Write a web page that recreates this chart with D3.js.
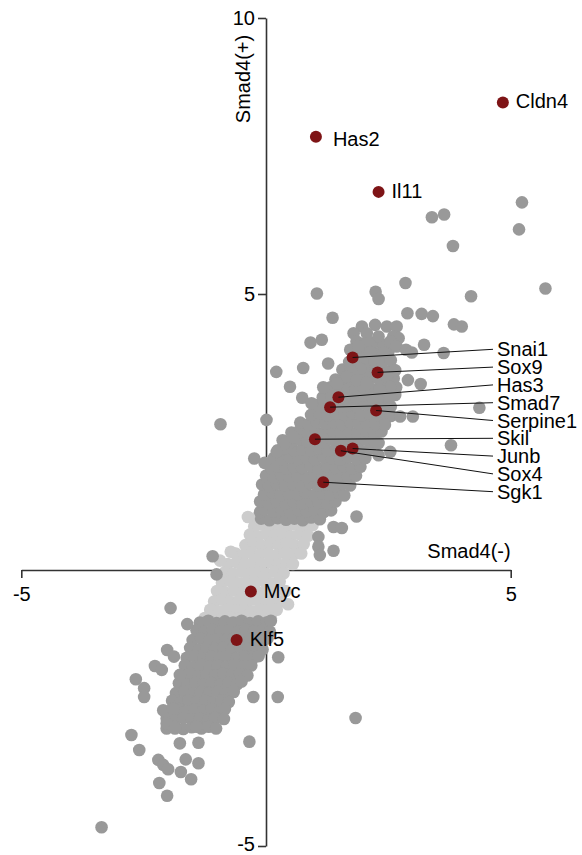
<!DOCTYPE html>
<meta charset="utf-8">
<style>
  body { margin: 0; background: #fff; }
  svg { font-family: Arial, "Liberation Sans", Helvetica, sans-serif; }
  .axis path, .axis line { stroke: #333; stroke-width: 1.6px; }
  .axis text { font-size: 20px; fill: #000; }
  .title { font-size: 20px; fill: #000; }
  .gene { font-size: 20px; fill: #000; }
  .leader { stroke: #111; stroke-width: 1px; }
</style>
<svg width="582" height="855"></svg>
<script src="https://d3js.org/d3.v7.min.js"></script>
<script>

// axis setup
var xDomain = [-5, 5];
var yDomain = [-5, 10];
var xTicks = [-5, 5];
var yTicks = [-5, 5, 10];
var xTitle = "Smad4(-)";
var yTitle = "Smad4(+)";

// genes with direct labels
var labelNames = ["Cldn4", "Has2", "Il11", "Myc", "Klf5"];
var labelX = [4.84, 1.02, 2.30, -0.31, -0.60];
var labelY = [8.47, 7.85, 6.85, -0.39, -1.27];

// genes with leader lines to the right column
var calloutNames = ["Snai1", "Sox9", "Has3", "Smad7", "Serpine1", "Skil", "Junb", "Sox4", "Sgk1"];
var calloutX = [1.77, 2.28, 1.48, 1.31, 2.25, 1.00, 1.77, 1.53, 1.17];
var calloutY = [3.85, 3.58, 3.13, 2.95, 2.89, 2.37, 2.20, 2.16, 1.59];

// light grey genes (not significant), around origin
var lightPoints = [
  [-0.18,0.95],[-0.01,0.98],[0.16,0.94],[0.33,0.97],[0.50,0.95],[0.67,0.98],[0.84,0.94],
  [-0.24,0.79],[-0.07,0.82],[0.10,0.78],[0.27,0.81],[0.44,0.79],[0.61,0.82],[0.78,0.78],[0.95,0.81],
  [-0.33,0.64],[-0.16,0.61],[0.01,0.65],[0.18,0.62],[0.35,0.64],[0.52,0.61],[0.69,0.65],[0.86,0.62],
  [-0.42,0.45],[-0.25,0.48],[-0.08,0.44],[0.09,0.47],[0.26,0.45],[0.43,0.48],[0.60,0.44],[0.77,0.47],
  [-0.62,0.30],[-0.46,0.27],[-0.29,0.31],[-0.12,0.28],[0.05,0.30],[0.22,0.27],[0.39,0.31],[0.56,0.28],[0.72,0.30],
  [-0.78,0.11],[-0.60,0.14],[-0.43,0.10],[-0.26,0.13],[-0.09,0.11],[0.08,0.14],[0.25,0.10],[0.42,0.13],[0.55,0.11],
  [-0.84,-0.04],[-0.67,-0.07],[-0.50,-0.03],[-0.33,-0.06],[-0.16,-0.04],[0.01,-0.07],[0.18,-0.03],[0.36,-0.06],
  [-0.90,-0.23],[-0.73,-0.20],[-0.56,-0.24],[-0.39,-0.21],[-0.22,-0.23],[-0.05,-0.20],[0.12,-0.24],[0.28,-0.21],
  [-1.00,-0.38],[-0.83,-0.41],[-0.66,-0.37],[-0.49,-0.40],[-0.32,-0.38],[-0.15,-0.41],[0.02,-0.37],[0.19,-0.40],[0.40,-0.38],
  [-1.06,-0.57],[-0.89,-0.54],[-0.72,-0.58],[-0.55,-0.55],[-0.38,-0.57],[-0.21,-0.54],[-0.04,-0.58],[0.13,-0.55],[0.30,-0.57],[0.45,-0.62],
  [-1.14,-0.72],[-0.97,-0.75],[-0.80,-0.71],[-0.63,-0.74],[-0.46,-0.72],[-0.29,-0.75],[-0.12,-0.71],[0.05,-0.74],[0.22,-0.72],
  [-1.25,-0.87],[-1.08,-0.85],[-0.91,-0.88],[-0.74,-0.86],[-0.57,-0.88],[-0.40,-0.85],[-0.23,-0.87],[-0.06,-0.85],[0.10,-0.88],
  [-0.37,0.96],[-0.72,0.33],[-0.94,0.17]
];

// dark grey genes, upregulated cluster
var upPoints = [
  [-0.10,0.93],[0.07,0.90],[0.24,0.94],[0.41,0.91],[0.58,0.93],[0.75,0.90],[0.92,0.95],[1.10,0.92],
  [-0.12,1.05],[-0.03,1.10],[0.15,1.06],[0.32,1.09],[0.49,1.05],[0.66,1.08],[0.83,1.06],[1.00,1.10],[1.18,1.05],[1.33,1.08],
  [-0.12,1.24],[0.05,1.21],[0.22,1.25],[0.40,1.20],[0.57,1.23],[0.74,1.21],[0.91,1.25],[1.08,1.22],[1.25,1.20],[1.42,1.24],
  [-0.04,1.37],[0.13,1.40],[0.30,1.36],[0.47,1.39],[0.64,1.37],[0.81,1.41],[0.98,1.36],[1.15,1.39],[1.32,1.37],[1.49,1.40],[1.60,1.35],
  [-0.08,1.55],[0.06,1.52],[0.22,1.56],[0.39,1.53],[0.56,1.55],[0.73,1.52],[0.90,1.57],[1.07,1.53],[1.24,1.55],[1.41,1.52],[1.58,1.56],[1.72,1.53],
  [0.00,1.71],[0.15,1.68],[0.31,1.72],[0.48,1.69],[0.65,1.71],[0.82,1.68],[0.99,1.72],[1.16,1.70],[1.33,1.68],[1.50,1.72],[1.67,1.69],[1.84,1.71],
  [0.10,1.85],[0.24,1.88],[0.40,1.84],[0.57,1.87],[0.74,1.85],[0.91,1.88],[1.08,1.84],[1.25,1.87],[1.42,1.85],[1.59,1.88],[1.76,1.84],[1.93,1.87],
  [0.16,2.03],[0.33,2.00],[0.49,2.04],[0.66,2.01],[0.83,2.03],[1.00,2.00],[1.17,2.04],[1.34,2.02],[1.51,2.00],[1.68,2.04],[1.85,2.01],[2.03,2.03],
  [0.24,2.17],[0.41,2.20],[0.58,2.16],[0.75,2.19],[0.92,2.17],[1.09,2.20],[1.26,2.16],[1.43,2.19],[1.60,2.17],[1.77,2.20],[1.94,2.16],[2.12,2.19],
  [0.34,2.35],[0.50,2.32],[0.67,2.36],[0.84,2.33],[1.01,2.35],[1.18,2.32],[1.35,2.36],[1.52,2.33],[1.69,2.35],[1.86,2.32],[2.03,2.36],[2.22,2.33],
  [0.52,2.49],[0.68,2.52],[0.85,2.48],[1.02,2.51],[1.19,2.49],[1.36,2.52],[1.53,2.48],[1.70,2.51],[1.87,2.49],[2.04,2.52],[2.21,2.48],[2.36,2.51],
  [0.70,2.67],[0.87,2.64],[1.04,2.68],[1.21,2.65],[1.38,2.67],[1.55,2.64],[1.72,2.68],[1.89,2.65],[2.06,2.67],[2.23,2.64],[2.42,2.68],
  [0.92,2.81],[1.09,2.84],[1.26,2.80],[1.43,2.83],[1.60,2.81],[1.77,2.84],[1.94,2.80],[2.11,2.83],[2.28,2.81],[2.45,2.84],[2.55,2.79],
  [1.02,2.99],[1.18,2.96],[1.35,3.00],[1.52,2.97],[1.69,2.99],[1.86,2.96],[2.03,3.00],[2.20,2.97],[2.37,2.99],[2.55,2.96],
  [1.16,3.13],[1.33,3.16],[1.50,3.12],[1.67,3.15],[1.84,3.13],[2.01,3.16],[2.18,3.12],[2.35,3.15],[2.52,3.13],[2.64,3.17],
  [1.32,3.31],[1.48,3.28],[1.65,3.32],[1.82,3.29],[1.99,3.31],[2.16,3.28],[2.33,3.32],[2.50,3.29],[2.66,3.31],
  [1.42,3.45],[1.59,3.48],[1.76,3.44],[1.93,3.47],[2.10,3.45],[2.27,3.48],[2.44,3.44],[2.61,3.47],
  [1.56,3.63],[1.73,3.60],[1.90,3.64],[2.07,3.61],[2.24,3.63],[2.41,3.60],[2.58,3.64],
  [1.70,3.77],[1.87,3.80],[2.04,3.76],[2.21,3.79],[2.38,3.77],[2.55,3.80],
  [1.80,3.95],[1.97,3.92],[2.14,3.96],[2.31,3.93],[2.50,3.95],
  [1.95,4.10],[2.20,4.12],[2.40,4.08]
];

// dark grey genes, downregulated cluster
var downPoints = [
  [-1.35,-0.95],[-1.18,-0.92],[-1.01,-0.96],[-0.84,-0.93],[-0.67,-0.95],[-0.50,-0.92],[-0.33,-0.96],[-0.16,-0.93],[0.01,-0.95],[0.10,-0.92],
  [-1.42,-1.09],[-1.26,-1.12],[-1.09,-1.08],[-0.92,-1.11],[-0.75,-1.09],[-0.58,-1.12],[-0.41,-1.08],[-0.24,-1.11],[-0.07,-1.09],[0.08,-1.12],
  [-1.50,-1.27],[-1.33,-1.24],[-1.16,-1.28],[-0.99,-1.25],[-0.82,-1.27],[-0.65,-1.24],[-0.48,-1.28],[-0.31,-1.25],[-0.14,-1.27],[0.03,-1.24],
  [-1.55,-1.41],[-1.38,-1.44],[-1.21,-1.40],[-1.04,-1.43],[-0.87,-1.41],[-0.70,-1.44],[-0.53,-1.40],[-0.36,-1.43],[-0.19,-1.41],[-0.07,-1.44],
  [-1.62,-1.59],[-1.45,-1.56],[-1.28,-1.60],[-1.11,-1.57],[-0.94,-1.59],[-0.77,-1.56],[-0.60,-1.60],[-0.43,-1.57],[-0.26,-1.59],[-0.15,-1.56],
  [-1.66,-1.73],[-1.49,-1.76],[-1.32,-1.72],[-1.15,-1.75],[-0.98,-1.73],[-0.81,-1.76],[-0.64,-1.72],[-0.47,-1.75],[-0.30,-1.73],
  [-1.72,-1.91],[-1.55,-1.88],[-1.38,-1.92],[-1.21,-1.89],[-1.04,-1.91],[-0.87,-1.88],[-0.70,-1.92],[-0.53,-1.89],[-0.38,-1.91],
  [-1.78,-2.05],[-1.61,-2.08],[-1.44,-2.04],[-1.27,-2.07],[-1.10,-2.05],[-0.93,-2.08],[-0.76,-2.04],[-0.59,-2.07],[-0.50,-2.02],
  [-1.84,-2.23],[-1.67,-2.20],[-1.50,-2.24],[-1.33,-2.21],[-1.16,-2.23],[-0.99,-2.20],[-0.82,-2.24],[-0.66,-2.21],
  [-1.92,-2.37],[-1.75,-2.40],[-1.58,-2.36],[-1.41,-2.39],[-1.24,-2.37],[-1.07,-2.40],[-0.90,-2.36],[-0.76,-2.39],
  [-1.96,-2.55],[-1.79,-2.52],[-1.62,-2.56],[-1.45,-2.53],[-1.28,-2.55],[-1.11,-2.52],[-0.94,-2.56],[-0.84,-2.52],
  [-2.03,-2.69],[-1.86,-2.72],[-1.69,-2.68],[-1.52,-2.71],[-1.35,-2.69],[-1.18,-2.72],[-1.04,-2.68],
  [-2.03,-2.87],[-1.86,-2.84],[-1.69,-2.88],[-1.52,-2.85],[-1.32,-2.87],[-1.17,-2.84]
];

// scattered dark grey genes outside the clusters
var outlierPoints = [
  [5.23,6.66],[5.17,6.17],[3.39,6.39],[3.64,6.44],[3.82,5.87],[5.71,5.10],[1.04,5.01],[2.24,5.04],[2.30,4.91],
  [2.85,5.20],[4.19,4.96],[1.36,4.57],[2.89,4.65],[3.18,4.64],[3.41,4.60],[3.84,4.45],[4.00,4.41],[1.96,4.41],
  [2.23,4.44],[2.47,4.41],[2.67,4.41],[1.79,4.29],[2.06,4.29],[2.30,4.23],[2.60,4.23],[2.71,4.20],[1.85,4.14],
  [2.09,4.11],[2.54,4.14],[2.67,4.05],[0.91,4.12],[1.14,4.17],[3.23,4.08],[3.63,3.93],[2.86,3.99],[2.98,3.94],
  [2.13,3.95],[2.40,3.94],[1.27,3.74],[0.76,3.66],[0.21,3.59],[2.64,3.62],[1.92,3.65],[1.75,3.59],[2.90,3.44],
  [3.16,3.37],[2.47,3.50],[2.54,3.32],[2.33,3.26],[2.54,3.14],[1.65,3.50],[1.85,3.44],[2.06,3.38],[0.49,3.32],
  [1.17,3.31],[1.45,3.38],[0.74,3.12],[0.93,3.02],[4.36,2.94],[2.74,2.78],[3.00,2.78],[2.43,2.63],[3.78,2.26],
  [2.30,2.30],[2.30,2.08],[2.54,2.14],[1.85,0.97],[1.38,0.78],[1.55,0.76],[1.07,0.60],[1.38,0.35],[1.07,0.42],
  [1.10,0.27],[-0.93,2.64],[0.01,2.72],[-0.24,2.02],[-0.03,1.94],[0.22,2.14],[0.39,2.30],[0.56,2.41],[1.72,3.99],
  [1.89,4.05],
  [-1.09,0.25],[-1.01,-0.08],[-1.95,-0.69],[-1.61,-0.98],[-2.02,-1.45],[-1.88,-1.57],[-2.27,-1.74],[-2.13,-1.81],
  [-2.66,-1.98],[-2.49,-2.14],[-2.49,-2.30],[-1.76,-1.90],[0.25,-1.58],[-0.26,-2.30],[0.24,-2.30],[-0.34,-3.11],
  [-2.75,-2.99],[-2.59,-3.26],[-2.20,-3.44],[-2.10,-3.53],[-2.00,-3.61],[-1.76,-3.14],[-1.64,-3.43],[-1.38,-3.13],
  [-1.38,-3.50],[-1.74,-3.66],[-1.53,-3.79],[-2.18,-3.86],[-2.02,-4.09],[-3.36,-4.66],[-1.02,-2.87],[-0.86,-2.70],
  [-1.42,-2.84],[-2.10,-2.54],[-1.90,-2.51],[-2.03,-2.78],[-1.86,-2.87],[1.83,-2.68]
];

var svg = d3.select("svg");

var x = d3.scaleLinear().domain(xDomain).range([21.3, 510.7]);
var y = d3.scaleLinear().domain(yDomain).range([846, 18]);

var lightCol = "#cccccc", darkCol = "#999999", redCol = "#7e1416";
var plain = function(d) { return String(d); };   // keep a plain hyphen for negatives

// axes cross at the origin
svg.append("g")
    .attr("class", "axis")
    .attr("transform", "translate(0," + y(0) + ")")
    .call(d3.axisBottom(x).tickValues(xTicks).tickFormat(plain)
      .tickSize(8).tickSizeOuter(0).tickPadding(9));

var yAxis = svg.append("g")
    .attr("class", "axis")
    .attr("transform", "translate(" + x(0) + ",0)")
    .call(d3.axisLeft(y).tickValues(yTicks).tickFormat(plain)
      .tickSize(8).tickSizeOuter(0).tickPadding(3));

// bottom label sits just inside the picture
yAxis.selectAll(".tick text").filter(function(d) { return d == -5; }).attr("dy", "0.2em");

svg.selectAll(".axis").attr("font-size", null).attr("font-family", null);

svg.append("text")
    .attr("class", "title")
    .attr("text-anchor", "end")
    .attr("x", x(5))
    .attr("y", y(0) - 12)
    .text(xTitle);

svg.append("text")
    .attr("class", "title")
    .attr("text-anchor", "middle")
    .attr("transform", "translate(" + (x(0) - 16) + "," + 79 + ") rotate(-90)")
    .text(yTitle);

// points
function dots(data, col, r) {
  svg.append("g").selectAll("circle")
    .data(data)
    .enter().append("circle")
    .attr("cx", function(d) { return x(d[0]); })
    .attr("cy", function(d) { return y(d[1]); })
    .attr("r", r)
    .attr("fill", col);
}
dots(lightPoints, lightCol, 6.3);
dots(upPoints, darkCol, 6.3);
dots(downPoints, darkCol, 6.3);
dots(outlierPoints, darkCol, 6.3);

var labelled = labelNames.map(function(n, i) { return [labelX[i], labelY[i], n]; });
var callouts = calloutNames.map(function(n, i) { return [calloutX[i], calloutY[i], n]; });

dots(labelled, redCol, 6);
dots(callouts, redCol, 6);

// direct labels (Has2 sits a little further out)
svg.append("g").selectAll("text")
    .data(labelled)
    .enter().append("text")
    .attr("class", "gene")
    .attr("x", function(d) { return x(d[0]) + (d[2] == "Has2" ? 17 : 13); })
    .attr("y", function(d) { return y(d[1]) + (d[2] == "Has2" ? 9 : 6); })
    .text(function(d) { return d[2]; });

// right column labels with leader lines
var colX = 497, colTop = 349.3, colStep = 17.8;
svg.append("g").selectAll("line")
    .data(callouts)
    .enter().append("line")
    .attr("class", "leader")
    .attr("x1", function(d) { return x(d[0]); })
    .attr("y1", function(d) { return y(d[1]); })
    .attr("x2", colX - 4)
    .attr("y2", function(d, i) { return colTop + i * colStep; });

svg.append("g").selectAll("text")
    .data(callouts)
    .enter().append("text")
    .attr("class", "gene")
    .attr("x", colX)
    .attr("y", function(d, i) { return colTop + i * colStep + 7; })
    .text(function(d) { return d[2]; });

</script>
